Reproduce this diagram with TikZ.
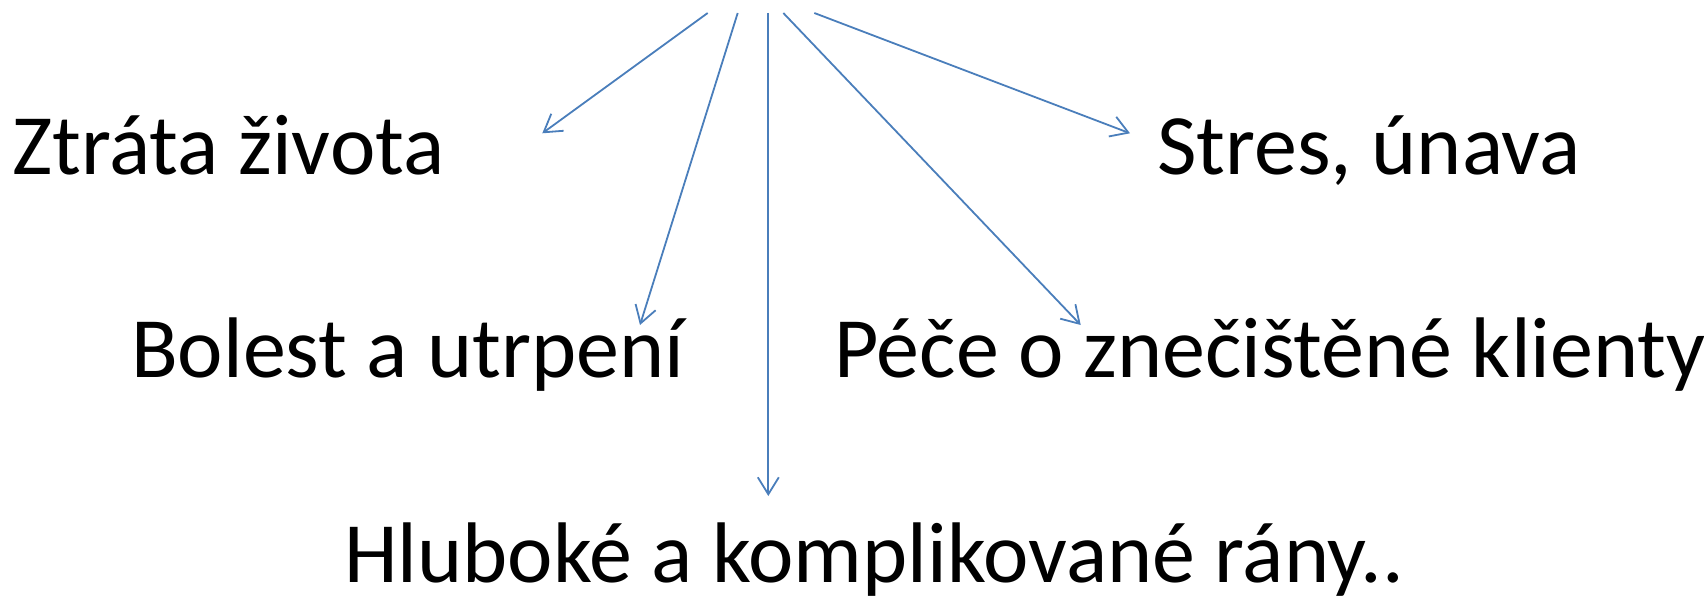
\documentclass[tikz,border=0pt]{standalone}
\usepackage{fontspec}
\setmainfont{Carlito}
\usetikzlibrary{arrows.meta}
\definecolor{linkblue}{RGB}{74,126,187}
\begin{document}
\begin{tikzpicture}[x=1pt,y=-1pt,
  lbl/.style={anchor=base west,inner sep=0pt,font=\fontsize{86}{100}\selectfont},
  link/.style={draw=linkblue,line width=1.8pt,-{Straight Barb[length=17pt,width=21pt,line width=1.8pt]}}]
\useasboundingbox (0,0) rectangle (1704,596);
\node[lbl] (ztrata) at (12,175) {Ztráta života};
\node[lbl] (stres) at (1157,175) {Stres, únava};
\node[lbl] (bolest) at (131,377) {Bolest a utrpení};
\node[lbl] (pece) at (834,377) {Péče o znečištěné klienty};
\node[lbl] (hluboke) at (344,582) {Hluboké a komplikované rány..};
\coordinate (s1) at (707.7,13);
\coordinate (s2) at (737.7,13);
\coordinate (s3) at (768.3,13);
\coordinate (s4) at (783.3,13);
\coordinate (s5) at (814.3,13);
\coordinate (t1) at (542.3,133.3);
\coordinate (t2) at (640,325);
\coordinate (t3) at (768.3,496);
\coordinate (t4) at (1080.7,325);
\coordinate (t5) at (1130,133.3);
\draw[link] (s1) -- (t1);
\draw[link] (s2) -- (t2);
\draw[link] (s3) -- (t3);
\draw[link] (s4) -- (t4);
\draw[link] (s5) -- (t5);
\end{tikzpicture}
\end{document}
